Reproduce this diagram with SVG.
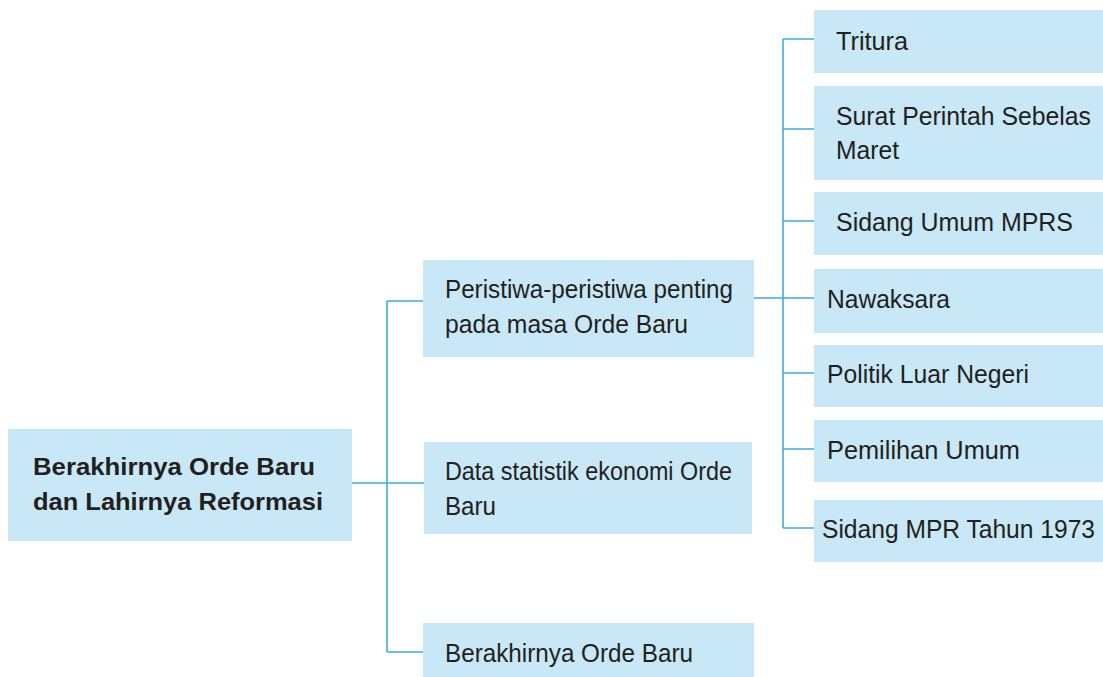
<svg xmlns="http://www.w3.org/2000/svg" width="1103" height="677" viewBox="0 0 1103 677">
<style>
.box{fill:#c8e8f8}
.t{font-family:"Liberation Sans",Arial,sans-serif;font-size:26.5px;fill:#231f20}
.b{font-family:"Liberation Sans",Arial,sans-serif;font-size:24px;font-weight:bold;fill:#231f20}
.c{fill:none;stroke:#3aaee0;stroke-width:1.6}
</style>
<rect width="1103" height="677" fill="#ffffff"/>
<g id="connectors">
<path class="c" d="M352,483 H387 M387,301 V652 M387,301 H423 M387,483 H424 M387,652 H423"/>
<path class="c" d="M752,298 H814 M783,39 V528 M783,39 H814 M783,129 H814 M783,221 H814 M783,373 H814 M783,449 H814 M783,528 H814"/>
</g>
<g id="root">
<rect class="box" x="8" y="429" width="344" height="112"/>
<text class="b" x="33" y="475" textLength="282" lengthAdjust="spacingAndGlyphs">Berakhirnya Orde Baru</text>
<text class="b" x="33" y="510" textLength="290" lengthAdjust="spacingAndGlyphs">dan Lahirnya Reformasi</text>
</g>
<g id="peristiwa">
<rect class="box" x="423" y="260" width="331" height="97"/>
<text class="t" x="445" y="298" textLength="288" lengthAdjust="spacingAndGlyphs">Peristiwa-peristiwa penting</text>
<text class="t" x="445" y="333" textLength="243" lengthAdjust="spacingAndGlyphs">pada masa Orde Baru</text>
</g>
<g id="data">
<rect class="box" x="424" y="442" width="328" height="92"/>
<text class="t" x="445" y="480" textLength="287" lengthAdjust="spacingAndGlyphs">Data statistik ekonomi Orde</text>
<text class="t" x="445" y="515" textLength="51" lengthAdjust="spacingAndGlyphs">Baru</text>
</g>
<g id="berakhirnya">
<rect class="box" x="423" y="623" width="331" height="54"/>
<text class="t" x="445" y="662" textLength="248" lengthAdjust="spacingAndGlyphs">Berakhirnya Orde Baru</text>
</g>
<g id="tritura">
<rect class="box" x="814" y="10" width="289" height="63"/>
<text class="t" x="836" y="50" textLength="72" lengthAdjust="spacingAndGlyphs">Tritura</text>
</g>
<g id="supersemar">
<rect class="box" x="814" y="86" width="289" height="94"/>
<text class="t" x="836" y="125" textLength="255" lengthAdjust="spacingAndGlyphs">Surat Perintah Sebelas</text>
<text class="t" x="836" y="159" textLength="63" lengthAdjust="spacingAndGlyphs">Maret</text>
</g>
<g id="sidang-umum">
<rect class="box" x="814" y="192" width="289" height="63"/>
<text class="t" x="836" y="231" textLength="237" lengthAdjust="spacingAndGlyphs">Sidang Umum MPRS</text>
</g>
<g id="nawaksara">
<rect class="box" x="814" y="269" width="289" height="64"/>
<text class="t" x="827" y="308" textLength="123" lengthAdjust="spacingAndGlyphs">Nawaksara</text>
</g>
<g id="politik">
<rect class="box" x="814" y="345" width="289" height="62"/>
<text class="t" x="827" y="383" textLength="202" lengthAdjust="spacingAndGlyphs">Politik Luar Negeri</text>
</g>
<g id="pemilu">
<rect class="box" x="814" y="420" width="289" height="62"/>
<text class="t" x="827" y="459" textLength="193" lengthAdjust="spacingAndGlyphs">Pemilihan Umum</text>
</g>
<g id="sidang-mpr">
<rect class="box" x="814" y="500" width="289" height="62"/>
<text class="t" x="822" y="538" textLength="273" lengthAdjust="spacingAndGlyphs">Sidang MPR Tahun 1973</text>
</g>
</svg>
